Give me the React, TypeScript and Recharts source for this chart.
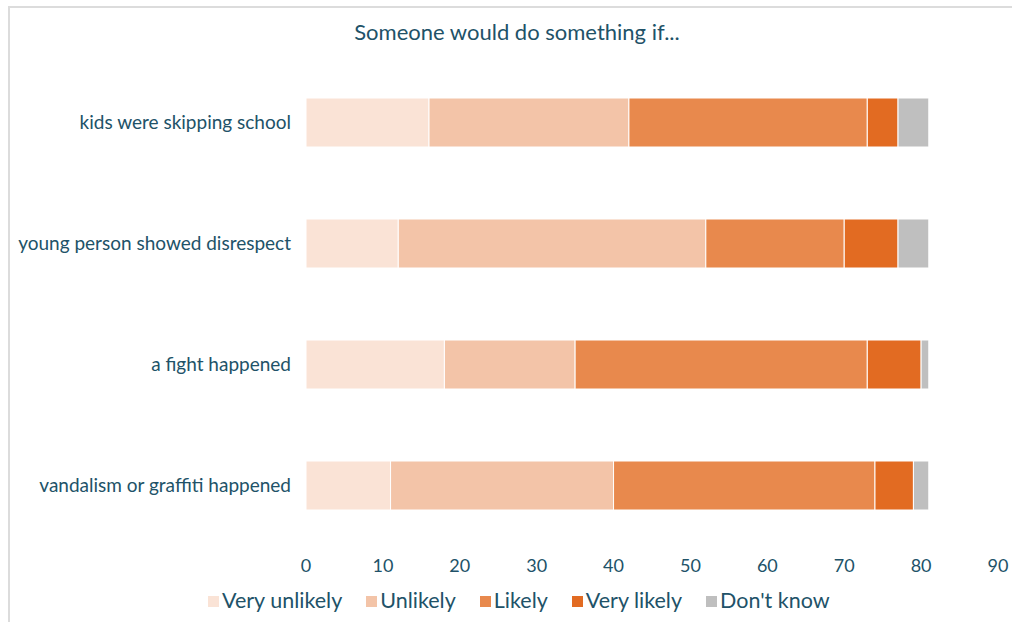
import { BarChart, Bar, XAxis, YAxis } from "recharts";

const categories = [
  "kids were skipping school",
  "young person showed disrespect",
  "a fight happened",
  "vandalism or graffiti happened",
];

const veryUnlikely = [16, 12, 18, 11];
const unlikely = [26, 40, 17, 29];
const likely = [31, 18, 38, 34];
const veryLikely = [4, 7, 7, 5];
const dontKnow = [4, 4, 1, 2];

const xTicks = [0, 10, 20, 30, 40, 50, 60, 70, 80, 90];

const series = [
  { key: "veryUnlikely", name: "Very unlikely", color: "#FAE3D6" },
  { key: "unlikely", name: "Unlikely", color: "#F3C4A8" },
  { key: "likely", name: "Likely", color: "#E8894D" },
  { key: "veryLikely", name: "Very likely", color: "#E26B22" },
  { key: "dontKnow", name: "Don't know", color: "#BFBFBF" },
];

const data = categories.map((c, i) => ({
  category: c,
  veryUnlikely: veryUnlikely[i],
  unlikely: unlikely[i],
  likely: likely[i],
  veryLikely: veryLikely[i],
  dontKnow: dontKnow[i],
}));

const textColor = "#215268";
const font = "Lato, 'Open Sans', sans-serif";

if (typeof document !== "undefined") document.body.style.margin = "0";

export default function App() {
  return (
    <div
      style={{
        position: "relative",
        width: 1012,
        height: 622,
        background: "#fff",
        fontFamily: font,
        overflow: "hidden",
      }}
    >
      <div
        style={{
          position: "absolute",
          left: 8,
          top: 6,
          right: 0,
          bottom: 0,
          borderTop: "2px solid #dcdcdc",
          borderLeft: "2px solid #dcdcdc",
        }}
      />
      <div
        style={{
          position: "absolute",
          left: 0,
          width: 1034,
          top: 18,
          textAlign: "center",
          fontSize: 22,
          color: textColor,
        }}
      >
        Someone would do something if...
      </div>
      <div style={{ position: "absolute", left: 0, top: 0 }}>
        <BarChart
          width={1012}
          height={622}
          data={data}
          layout="vertical"
          margin={{ top: 62, right: 14, bottom: 46, left: 10 }}
          barSize={49}
        >
          <XAxis
            type="number"
            domain={[0, 90]}
            ticks={xTicks}
            axisLine={false}
            tickLine={false}
            height={30}
            tick={{ fill: textColor, fontSize: 18, fontFamily: font, dy: 5 }}
          />
          <YAxis
            type="category"
            dataKey="category"
            width={296}
            axisLine={false}
            tickLine={false}
            tickMargin={9}
            tick={{ fill: textColor, fontSize: 19, fontFamily: font }}
          />
          {series.map((s) => (
            <Bar
              key={s.key}
              dataKey={s.key}
              name={s.name}
              stackId="a"
              fill={s.color}
              stroke="#fff"
              strokeWidth={1}
              isAnimationActive={false}
            />
          ))}
        </BarChart>
      </div>
      <div
        style={{
          position: "absolute",
          left: 208,
          top: 587,
          display: "flex",
          alignItems: "center",
          fontSize: 21.5,
          color: textColor,
        }}
      >
        {series.map((s) => (
          <div
            key={s.key}
            style={{ display: "flex", alignItems: "center", marginRight: 24 }}
          >
            <span
              style={{
                display: "inline-block",
                width: 11,
                height: 11,
                background: s.color,
                marginRight: 3,
                marginTop: 3,
              }}
            />
            <span>{s.name}</span>
          </div>
        ))}
      </div>
    </div>
  );
}
